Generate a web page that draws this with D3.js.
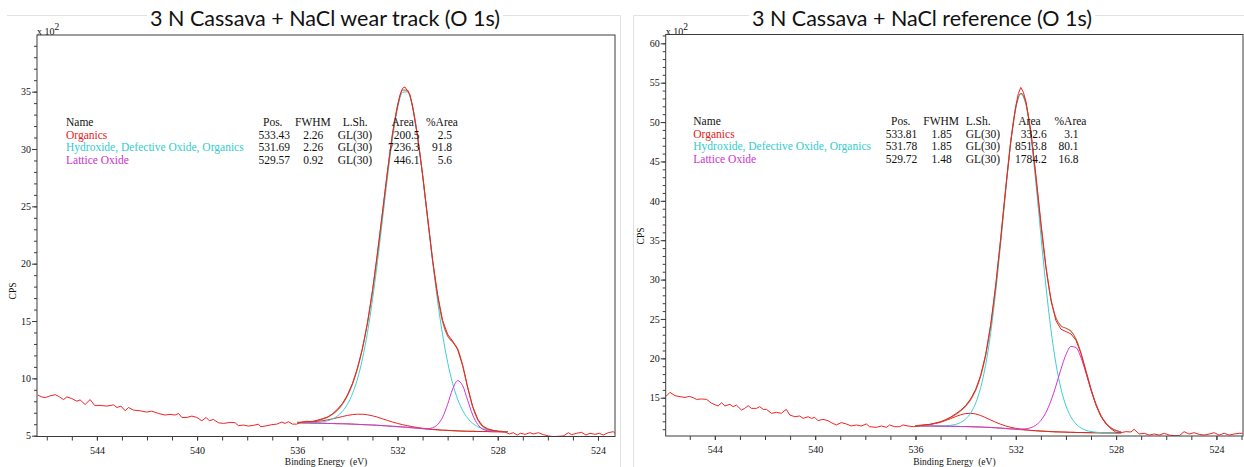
<!DOCTYPE html>
<html><head><meta charset="utf-8">
<script src="https://cdn.jsdelivr.net/npm/d3@7"></script>
<style>body{margin:0;background:#fff}svg{display:block}</style>
</head><body>
<svg id="c" width="1244" height="467"></svg>
<script>
// ---------------- DATA ----------------
const titleL = "3 N Cassava + NaCl wear track (O 1s)";
const titleR = "3 N Cassava + NaCl reference (O 1s)";
const compNames = ["Organics", "Hydroxide, Defective Oxide, Organics", "Lattice Oxide"];
const tableHead = ["Name", "Pos.", "FWHM", "L.Sh.", "Area", "%Area"];
const posL = ["533.43", "531.69", "529.57"];
const fwhmL = ["2.26", "2.26", "0.92"];
const lshL = ["GL(30)", "GL(30)", "GL(30)"];
const areaL = ["200.5", "7236.3", "446.1"];
const pctL = ["2.5", "91.8", "5.6"];
const posR = ["533.81", "531.78", "529.72"];
const fwhmR = ["1.85", "1.85", "1.48"];
const lshR = ["GL(30)", "GL(30)", "GL(30)"];
const areaR = ["332.6", "8513.8", "1784.2"];
const pctR = ["3.1", "80.1", "16.8"];

const xTickLabels = [544, 540, 536, 532, 528, 524];
const yTickLabelsL = [5, 10, 15, 20, 25, 30, 35];
const yTickLabelsR = [15, 20, 25, 30, 35, 40, 45, 50, 55, 60];

// fit-region energies (eV) and component heights above background (x10^2 CPS)
const gridL = [536.0,535.8,535.6,535.4,535.2,535.0,534.8,534.6,534.4,534.2,534.0,533.8,533.6,533.4,533.2,533.0,532.8,532.6,532.4,532.2,532.0,531.8,531.6,531.4,531.2,531.0,530.8,530.6,530.4,530.2,530.0,529.8,529.6,529.4,529.2,529.0,528.8,528.6,528.4,528.2,528.0,527.8,527.6];
const bgL = [6.13,6.12,6.11,6.10,6.09,6.08,6.07,6.06,6.05,6.04,6.03,6.01,5.99,5.97,5.95,5.93,5.91,5.88,5.85,5.82,5.79,5.76,5.73,5.69,5.65,5.61,5.57,5.54,5.51,5.48,5.46,5.44,5.42,5.40,5.39,5.38,5.37,5.36,5.36,5.35,5.35,5.35,5.35];
const orgL = [0.029,0.046,0.071,0.108,0.158,0.223,0.306,0.405,0.516,0.631,0.739,0.828,0.884,0.900,0.871,0.804,0.708,0.596,0.481,0.374,0.280,0.202,0.141,0.096,0.063,0.040,0.025,0.015,0.009,0.005,0.003,0.001,0,0,0,0,0,0,0,0,0,0,0];
const hydL = [0.005,0.010,0.019,0.037,0.070,0.128,0.228,0.394,0.662,1.082,1.717,2.646,3.957,5.736,8.050,10.916,14.277,17.966,21.703,25.099,27.721,29.182,29.253,27.924,25.405,22.068,18.346,14.635,11.231,8.311,5.942,4.113,2.758,1.796,1.135,0.697,0.415,0.241,0.136,0.074,0.040,0.021,0.010];
const latL = [0,0,0,0,0,0,0,0,0,0,0,0,0,0,0,0,0,0,0,0,0,0,0,0,0,0.010,0.044,0.154,0.459,1.133,2.281,3.625,4.385,3.956,2.692,1.430,0.614,0.218,0.065,0.016,0.003,0.001,0];

const gridR = [536.0,535.8,535.6,535.4,535.2,535.0,534.8,534.6,534.4,534.2,534.0,533.8,533.6,533.4,533.2,533.0,532.8,532.6,532.4,532.2,532.0,531.8,531.6,531.4,531.2,531.0,530.8,530.6,530.4,530.2,530.0,529.8,529.6,529.4,529.2,529.0,528.8,528.6,528.4,528.2,528.0,527.8];
const bgR = [11.42,11.42,11.41,11.41,11.40,11.39,11.38,11.37,11.36,11.35,11.34,11.32,11.30,11.28,11.25,11.22,11.18,11.14,11.09,11.04,10.99,10.94,10.89,10.84,10.80,10.76,10.73,10.70,10.67,10.65,10.63,10.61,10.59,10.58,10.57,10.56,10.55,10.54,10.54,10.53,10.53,10.52];
const orgR = [0.042,0.075,0.130,0.215,0.339,0.509,0.726,0.979,1.244,1.481,1.645,1.700,1.633,1.459,1.218,0.953,0.702,0.490,0.324,0.205,0.123,0.071,0.039,0.021,0.011,0.005,0.002,0.001,0,0,0,0,0,0,0,0,0,0,0,0,0,0];
const hydR = [0.001,0.002,0.003,0.004,0.011,0.026,0.058,0.124,0.255,0.504,0.954,1.734,3.012,5.010,7.953,12.035,17.304,23.545,30.186,36.299,40.755,42.583,41.356,37.360,31.490,24.866,18.484,12.997,8.673,5.517,3.348,1.943,1.078,0.574,0.293,0.144,0.067,0.030,0.013,0.005,0.002,0.001];
const latR = [0,0,0,0,0,0,0,0,0,0,0,0,0,0,0,0,0,0,0.004,0.011,0.029,0.071,0.163,0.354,0.718,1.358,2.388,3.889,5.826,7.963,9.839,10.900,10.776,9.512,7.540,5.412,3.550,2.145,1.202,0.627,0.305,0.139];

// measured spectra (x10^2 CPS)
const rawEnergyL = [546.36,546.20,546.06,545.89,545.66,545.49,545.33,545.20,545.00,544.80,544.67,544.47,544.27,544.09,543.87,543.60,543.34,543.20,543.04,542.87,542.74,542.54,542.27,542.01,541.81,541.54,541.28,541.08,540.88,540.74,540.61,540.41,540.21,540.01,539.81,539.64,539.51,539.35,539.15,538.95,538.68,538.48,538.35,538.15,537.95,537.75,537.55,537.46,537.22,537.02,536.82,536.62,536.49,536.36,536.19,536.03,535.8,535.6,535.4,535.2,535.0,534.8,534.6,534.4,534.2,534.0,533.8,533.6,533.4,533.2,533.0,532.8,532.6,532.4,532.2,532.0,531.9,531.8,531.7,531.6,531.5,531.4,531.2,531.0,530.8,530.6,530.4,530.2,530.0,529.8,529.6,529.4,529.2,529.0,528.8,528.6,528.4,528.2,528.0,527.91,527.71,527.54,527.38,527.22,527.09,526.91,526.71,526.58,526.38,526.18,525.98,525.78,525.58,525.38,525.18,525.05,524.85,524.65,524.48,524.32,524.12,523.95,523.79,523.59,523.39,523.32];
const rawCountsL = [8.55,8.38,8.32,8.46,8.58,8.38,8.15,8.38,8.24,8.01,8.12,7.72,8.15,7.64,7.64,7.58,7.69,7.46,7.58,7.17,7.46,7.23,7.17,7.06,7.14,6.94,6.80,6.86,6.80,6.94,6.59,6.59,6.71,6.59,6.30,6.59,6.30,6.42,6.13,6.07,6.16,6.13,5.87,5.93,5.84,5.90,6.01,5.78,5.87,5.96,6.01,6.19,6.07,6.22,6.01,6.01,6.20,6.26,6.22,6.35,6.48,6.62,6.90,7.30,7.80,8.55,9.55,10.90,12.60,14.80,17.60,20.95,24.50,28.10,31.35,33.75,34.70,35.30,35.40,35.05,34.70,33.75,31.05,27.80,24.05,20.30,17.30,15.05,13.85,13.25,12.50,11.10,9.20,7.55,6.45,5.85,5.60,5.48,5.40,5.35,5.32,5.15,5.26,5.06,5.21,5.12,5.26,5.15,5.26,5.09,4.98,4.92,4.95,4.98,5.26,5.09,5.21,5.29,5.06,5.21,5.12,5.21,5.06,5.26,5.35,5.21];
const rawEnergyR = [545.96,545.79,545.59,545.39,545.19,545.02,544.86,544.73,544.53,544.33,544.13,544.00,543.87,543.73,543.60,543.40,543.27,543.14,542.94,542.81,542.67,542.54,542.34,542.21,542.07,541.94,541.74,541.54,541.35,541.15,541.01,540.81,540.62,540.48,540.28,540.15,540.02,539.89,539.69,539.49,539.36,539.16,538.96,538.76,538.56,538.36,538.16,537.96,537.83,537.56,537.36,537.16,537.03,536.83,536.63,536.50,536.30,536.07,535.8,535.6,535.4,535.2,535.0,534.8,534.6,534.4,534.2,534.0,533.8,533.6,533.4,533.2,533.0,532.8,532.6,532.4,532.2,532.0,531.9,531.8,531.7,531.6,531.4,531.2,531.0,530.8,530.6,530.4,530.2,530.0,529.8,529.6,529.4,529.2,529.0,528.8,528.6,528.4,528.2,528.01,527.81,527.61,527.41,527.28,527.08,526.88,526.68,526.48,526.28,526.08,525.88,525.68,525.48,525.29,525.09,524.89,524.69,524.49,524.29,524.09,523.89,523.69,523.49,523.29,523.09,522.96];
const rawCountsR = [15.13,15.68,15.26,15.13,15.04,15.17,15.00,14.79,14.84,14.79,14.29,14.12,13.95,14.37,13.95,14.16,13.86,14.07,13.44,13.65,13.99,13.65,13.65,13.86,13.52,13.52,13.02,13.14,13.02,13.52,12.80,12.59,12.68,12.38,12.59,12.38,12.51,12.09,12.26,12.09,11.84,11.54,11.84,11.67,11.41,11.54,11.41,11.67,11.32,11.24,11.41,11.24,11.54,11.32,11.32,11.54,11.41,11.32,11.45,11.58,11.62,11.80,11.95,12.20,12.55,12.95,13.40,14.00,14.85,16.05,17.85,20.50,24.30,29.30,35.30,41.70,47.60,52.00,53.60,54.40,53.80,52.70,48.90,43.30,37.30,31.70,27.40,24.80,23.70,23.40,23.10,22.30,20.60,18.30,16.00,14.05,12.60,11.65,11.05,10.62,10.56,10.69,10.65,10.99,10.39,10.48,10.26,10.39,10.26,10.48,10.26,10.18,10.18,10.69,10.39,10.56,10.35,10.26,10.39,10.56,10.26,10.48,10.26,10.39,10.48,10.48];

// ---------------- STYLE / LAYOUT ----------------
const SERIF = "'Liberation Serif','Times New Roman',Times,serif";
const SANS = "Lato,'Open Sans','Liberation Sans',sans-serif";
const C = {data:"#ee2424", env:"#ad6a40", bg:"#b98a5e", org:"#e52222", hyd:"#3ccfcf", lat:"#d433d6", frame:"#3c3c3c", border:"#e2e2e2"};
const nameColors = [C.org, "#33cccc", "#cc33cc"];

const svg = d3.select("#c");

// picture borders
svg.append("path").attr("d","M7,15.5H620.5M620.5,15.5V467").attr("stroke",C.border).attr("fill","none");
svg.append("path").attr("d","M633.5,467V15.5H1244").attr("stroke",C.border).attr("fill","none");

const panels = [
  {id:"L", title:titleL, tX:150, tW:350, x0:37, x1:615, y0:35, y1:436.5, xDom:[546.39,523.32], yDom:[4.93,39.94],
   yTicks:yTickLabelsL, cpsX:13, cpsY:291, grid:gridL, bg:bgL, comps:[orgL,hydL,latL], rawE:rawEnergyL, rawC:rawCountsL,
   table:{cols:[posL,fwhmL,lshL,areaL,pctL], nameX:66, headX:[263,295,342.7,391.5,426], valX:[290,323.3,337.7,419.5,452], valAnchor:["end","end","start","end","end"], y:126, dy:12.5}},
  {id:"R", title:titleR, tX:752, tW:340, x0:665.7, x1:1243, y0:34.5, y1:436, xDom:[545.96,522.94], yDom:[10.14,61.12],
   yTicks:yTickLabelsR, cpsX:641, cpsY:236, grid:gridR, bg:bgR, comps:[orgR,hydR,latR], rawE:rawEnergyR, rawC:rawCountsR,
   table:{cols:[posR,fwhmR,lshR,areaR,pctR], nameX:693.3, headX:[891,923.3,965.7,1018.3,1054.5], valX:[917.3,951.7,965.7,1046.7,1078.5], valAnchor:["end","end","start","end","end"], y:125, dy:12.6}}
];

panels.forEach(p => {
  const g = svg.append("g");
  const x = d3.scaleLinear().domain(p.xDom).range([p.x0, p.x1]);
  const y = d3.scaleLinear().domain(p.yDom).range([p.y1, p.y0]);

  // title with white backing (hides picture border line)
  const t = g.append("text").attr("x", p.tX).attr("y", 26).attr("font-family", SANS).attr("font-size", 21)
    .attr("fill", "#111").attr("textLength", p.tW).attr("lengthAdjust", "spacingAndGlyphs").text(p.title);
  const bb = t.node().getBBox();
  g.insert("rect", "text").attr("x", bb.x - 3).attr("y", bb.y).attr("width", bb.width + 6).attr("height", bb.height).attr("fill", "#fff");

  // clip
  svg.append("clipPath").attr("id", "clip" + p.id).append("rect")
    .attr("x", p.x0).attr("y", p.y0).attr("width", p.x1 - p.x0).attr("height", p.y1 - p.y0);

  // axes
  const xMinor = d3.range(Math.ceil(p.xDom[1]), Math.floor(p.xDom[0]) + 1, 1);
  const yMinor = d3.range(Math.ceil(p.yDom[0]), Math.floor(p.yDom[1]) + 1, 1);
  const styleAxis = a => { a.select(".domain").remove(); a.selectAll("line").attr("stroke", C.frame);
    a.selectAll("text").attr("font-family", SERIF).attr("font-size", 10).attr("fill", "#111"); };
  g.append("g").attr("transform", `translate(0,${p.y1})`)
    .call(d3.axisBottom(x).tickValues(xMinor).tickSize(4).tickFormat("")).call(styleAxis);
  g.append("g").attr("transform", `translate(0,${p.y1})`)
    .call(d3.axisBottom(x).tickValues(xTickLabels).tickSize(4).tickPadding(6).tickFormat(d3.format("d"))).call(styleAxis);
  g.append("g").attr("transform", `translate(${p.x0},0)`)
    .call(d3.axisLeft(y).tickValues(yMinor).tickSize(3).tickFormat("")).call(styleAxis);
  g.append("g").attr("transform", `translate(${p.x0},0)`)
    .call(d3.axisLeft(y).tickValues(p.yTicks).tickSize(5).tickPadding(1).tickFormat(d3.format("d"))).call(styleAxis);

  // axis titles
  g.append("text").attr("x", (p.x0 + p.x1) / 2).attr("y", 465).attr("text-anchor", "middle")
    .attr("font-family", SERIF).attr("font-size", 9.5).attr("fill", "#111").style("white-space", "pre")
    .text("Binding Energy  (eV)");
  g.append("text").attr("transform", `translate(${p.cpsX},${p.cpsY}) rotate(-90)`).attr("text-anchor", "middle")
    .attr("dy", "0.35em").attr("font-family", SERIF).attr("font-size", 9.5).attr("fill", "#111").text("CPS");
  const sc = g.append("text").attr("x", p.x0).attr("y", p.y0).attr("font-family", SERIF).attr("font-size", 10).attr("fill", "#111");
  sc.append("tspan").text("x 10");
  sc.append("tspan").attr("dy", -5).attr("font-size", 9.5).text("2");

  // curves
  const plot = g.append("g").attr("clip-path", `url(#clip${p.id})`);
  const idx = d3.range(p.grid.length);
  const smooth = d3.line().curve(d3.curveMonotoneX);
  const pathFor = vals => smooth(idx.map(i => [x(p.grid[i]), y(vals(i))]));
  plot.append("path").attr("d", pathFor(i => p.bg[i])).attr("fill", "none").attr("stroke", C.bg).attr("stroke-width", 1.1);
  const compColors = [C.org, C.hyd, C.lat];
  p.comps.forEach((comp, k) => {
    plot.append("path").attr("d", pathFor(i => p.bg[i] + comp[i])).attr("fill", "none").attr("stroke", compColors[k]).attr("stroke-width", 1);
  });
  plot.append("path").attr("d", pathFor(i => p.bg[i] + p.comps[0][i] + p.comps[1][i] + p.comps[2][i]))
    .attr("fill", "none").attr("stroke", C.env).attr("stroke-width", 1.1);
  const raw = d3.line()(p.rawE.map((e, i) => [x(e), y(p.rawC[i])]));
  plot.append("path").attr("d", raw).attr("fill", "none").attr("stroke", C.data).attr("stroke-width", 1);

  // frame
  g.append("rect").attr("x", p.x0).attr("y", p.y0).attr("width", p.x1 - p.x0).attr("height", p.y1 - p.y0)
    .attr("fill", "none").attr("stroke", C.frame).attr("stroke-width", 1);

  // table
  const tb = p.table;
  const tt = g.append("g").attr("font-family", SERIF).attr("font-size", 11.5);
  tt.append("text").attr("x", tb.nameX).attr("y", tb.y).attr("fill", "#111").text(tableHead[0]);
  tb.headX.forEach((hx, j) => tt.append("text").attr("x", hx).attr("y", tb.y).attr("fill", "#111").text(tableHead[j + 1]));
  compNames.forEach((nm, r) => {
    const yy = tb.y + tb.dy * (r + 1);
    tt.append("text").attr("x", tb.nameX).attr("y", yy).attr("fill", nameColors[r]).text(nm);
    tb.cols.forEach((col, j) => tt.append("text").attr("x", tb.valX[j]).attr("y", yy)
      .attr("text-anchor", tb.valAnchor[j]).attr("fill", "#111").text(col[r]));
  });
});
</script>
</body></html>
